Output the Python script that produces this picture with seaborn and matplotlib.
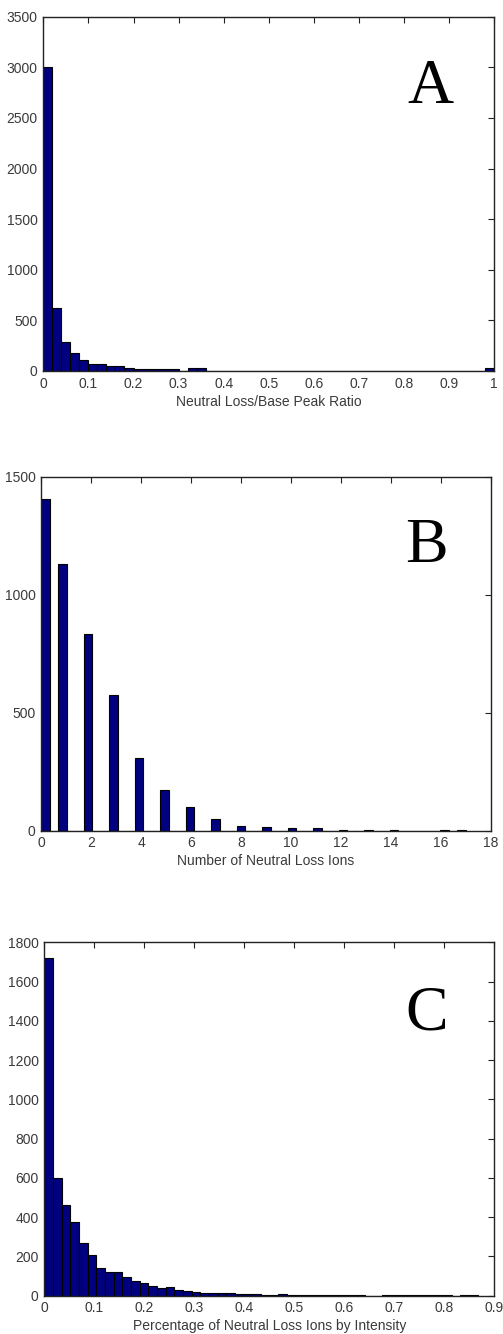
import numpy as np
import pandas as pd
import matplotlib
matplotlib.use("Agg")
import matplotlib.pyplot as plt
import seaborn as sns

# ---- Panel A: Neutral Loss/Base Peak Ratio (50 bins over 0..1)
a_edges = list(np.linspace(0, 1, 51))
a_counts = [3000, 620, 290, 180, 109, 69, 69, 46, 46, 33,
            23, 17, 17, 17, 17, 3, 26, 26, 4, 4,
            4, 4, 4, 4, 4, 4, 4, 4, 4, 4,
            4, 4, 4, 4, 4, 4, 4, 4, 4, 4,
            4, 4, 4, 4, 0, 0, 0, 0, 0, 30]

# ---- Panel B: Number of Neutral Loss Ions (integer values, 50 bins over 0..17)
b_values = list(range(18))
b_counts = [1405, 1130, 832, 573, 306, 172, 102, 49, 20, 14,
            10, 10, 5, 4, 5, 0, 4, 4]
b_edges = list(np.linspace(0, 17, 51))

# ---- Panel C: Percentage of Neutral Loss Ions by Intensity (50 bins over 0..0.8667)
c_edges = list(np.linspace(0, 0.8667, 51))
c_counts = [1722, 601, 463, 373, 268, 207, 140, 122, 122, 93,
            76, 64, 51, 40, 46, 29, 22, 17, 14, 14,
            14, 13, 8, 8, 7, 4, 3, 9, 2, 2,
            2, 2, 2, 2, 2, 2, 2, 0, 0, 2,
            2, 2, 2, 2, 2, 2, 2, 0, 2, 2]

a_xticks = [0, 0.1, 0.2, 0.3, 0.4, 0.5, 0.6, 0.7, 0.8, 0.9, 1]
a_xticklabels = ["0", "0.1", "0.2", "0.3", "0.4", "0.5", "0.6", "0.7", "0.8", "0.9", "1"]
a_yticks = [0, 500, 1000, 1500, 2000, 2500, 3000, 3500]
b_xticks = [0, 2, 4, 6, 8, 10, 12, 14, 16, 18]
b_yticks = [0, 500, 1000, 1500]
c_xticks = [0, 0.1, 0.2, 0.3, 0.4, 0.5, 0.6, 0.7, 0.8, 0.9]
c_xticklabels = ["0", "0.1", "0.2", "0.3", "0.4", "0.5", "0.6", "0.7", "0.8", "0.9"]
c_yticks = [0, 200, 400, 600, 800, 1000, 1200, 1400, 1600, 1800]

xlabels = ["Neutral Loss/Base Peak Ratio", "Number of Neutral Loss Ions",
           "Percentage of Neutral Loss Ions by Intensity"]
letters = ["A", "B", "C"]

sns.set_style("white")
plt.rcParams["font.family"] = ["Liberation Sans", "DejaVu Sans"]

W, H = 503, 1334
fig = plt.figure(figsize=(W / 100, H / 100), dpi=100)

def px_axes(left, right, top, bottom):
    return fig.add_axes([left / W, 1 - bottom / H, (right - left) / W, (bottom - top) / H])

axA = px_axes(43.3, 494.3, 16.7, 371.0)
axB = px_axes(41.0, 491.0, 476.7, 830.7)
axC = px_axes(44.3, 494.3, 942.3, 1295.7)

bar_color = "#000080"
tick_col = "#3a3a3a"

def centers(edges):
    e = np.asarray(edges)
    return list((e[:-1] + e[1:]) / 2)

dfA = pd.DataFrame({"x": centers(a_edges), "w": a_counts})
dfB = pd.DataFrame({"x": b_values, "w": b_counts})
dfC = pd.DataFrame({"x": centers(c_edges), "w": c_counts})

for df, edges, ax in [(dfA, a_edges, axA), (dfB, b_edges, axB), (dfC, c_edges, axC)]:
    sns.histplot(data=df, x="x", weights="w", bins=edges, ax=ax,
                 color=bar_color, edgecolor="black", linewidth=0.8, alpha=1)

cfg = [
    (axA, (0, 1), (0, 3500), a_xticks, a_xticklabels, a_yticks),
    (axB, (0, 18), (0, 1500), b_xticks, [str(t) for t in b_xticks], b_yticks),
    (axC, (0, 0.9), (0, 1800), c_xticks, c_xticklabels, c_yticks),
]
letter_pos = [(430, 88), (426, 547), (427, 1015)]

for i, (ax, xl, yl, xt, xtl, yt) in enumerate(cfg):
    ax.set_xlim(*xl)
    ax.set_ylim(*yl)
    ax.set_xticks(xt)
    ax.set_xticklabels(xtl)
    ax.set_yticks(yt)
    ax.set_yticklabels([str(t) for t in yt])
    ax.set_ylabel("")
    ax.set_xlabel(xlabels[i], fontsize=10, color=tick_col, labelpad=3)
    ax.tick_params(direction="in", length=4, width=0.8, color="#222222",
                   top=True, right=True, labelsize=10, labelcolor=tick_col, pad=4)
    for s in ax.spines.values():
        s.set_visible(True)
        s.set_color("#222222")
        s.set_linewidth(1.0)
    ax.set_facecolor("white")
    lx, ly = letter_pos[i]
    fig.text(lx / W, 1 - ly / H, letters[i], fontsize=46,
             family=["Liberation Serif", "DejaVu Serif"],
             ha="center", va="center", color="black")

fig.savefig("out.png", dpi=100, facecolor="white")
